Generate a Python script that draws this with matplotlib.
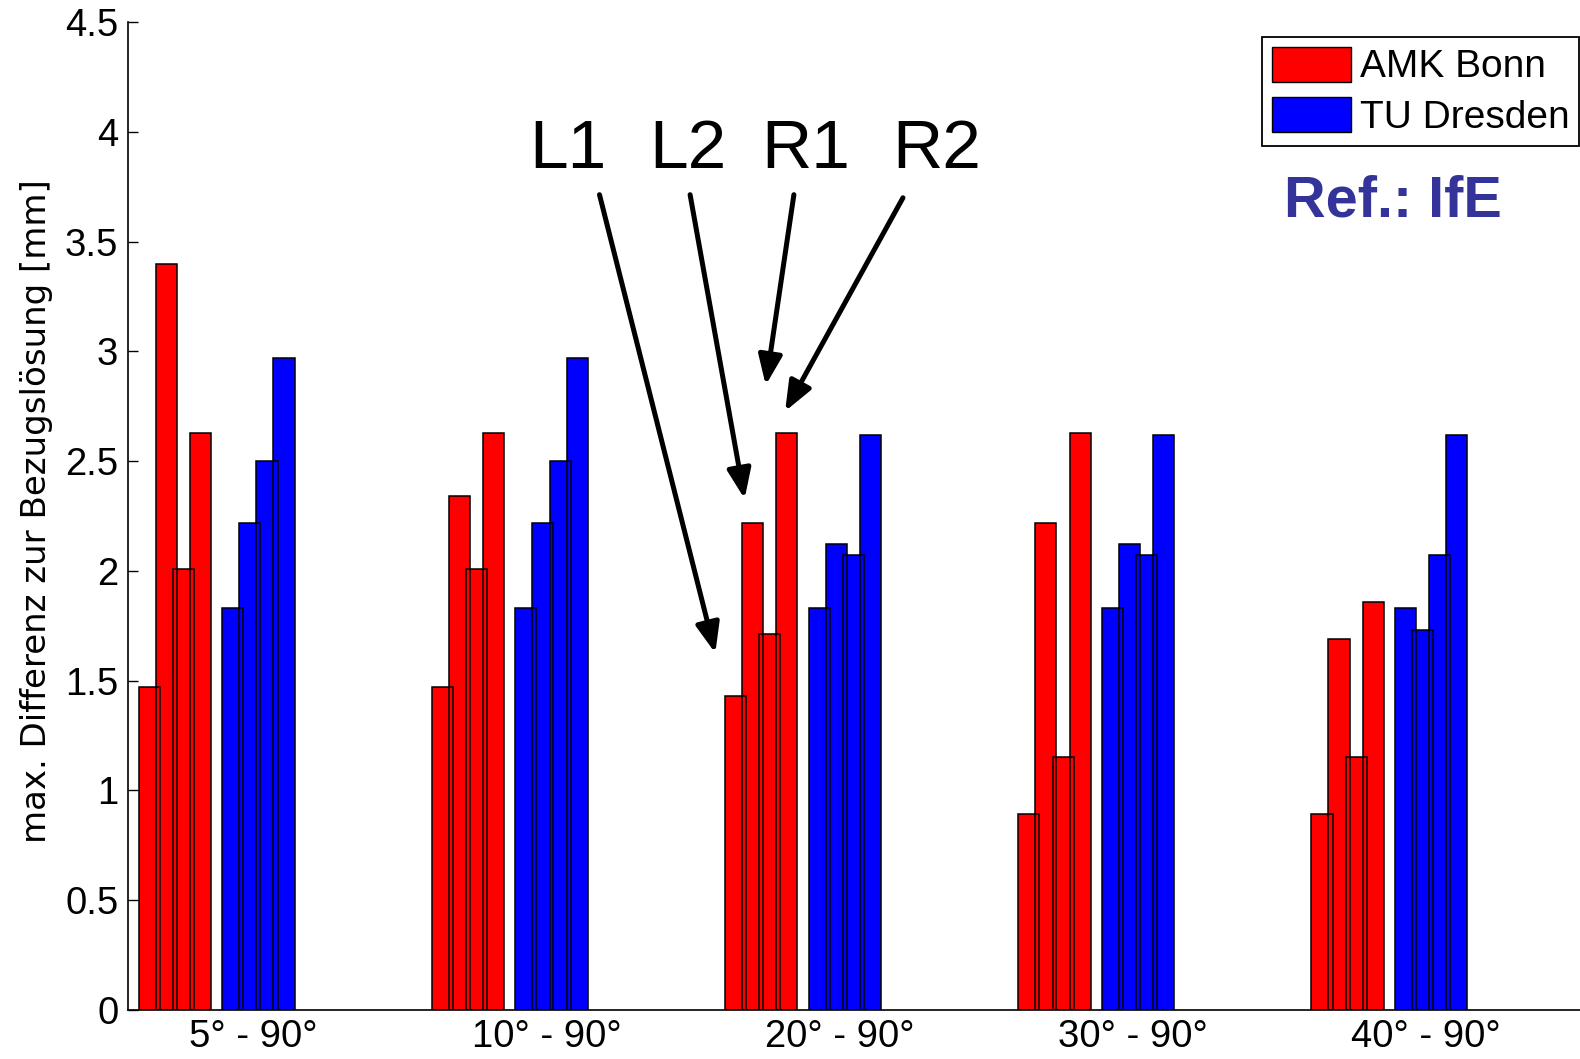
import matplotlib
matplotlib.use("Agg")
import matplotlib.pyplot as plt
from matplotlib.patches import Patch

plt.rcParams["font.family"] = ["Liberation Sans", "DejaVu Sans"]

# data
groups = ["5° - 90°", "10° - 90°", "20° - 90°", "30° - 90°", "40° - 90°"]
amk_bonn = [
    [1.47, 3.40, 2.01, 2.63],
    [1.47, 2.34, 2.01, 2.63],
    [1.43, 2.22, 1.71, 2.63],
    [0.89, 2.22, 1.15, 2.63],
    [0.89, 1.69, 1.15, 1.86],
]
tu_dresden = [
    [1.83, 2.22, 2.50, 2.97],
    [1.83, 2.22, 2.50, 2.97],
    [1.83, 2.12, 2.07, 2.62],
    [1.83, 2.12, 2.07, 2.62],
    [1.83, 1.73, 2.07, 2.62],
]
yticks = [0, 0.5, 1, 1.5, 2, 2.5, 3, 3.5, 4, 4.5]
ytick_labels = ["0", "0.5", "1", "1.5", "2", "2.5", "3", "3.5", "4", "4.5"]
markers = ["L1", "L2", "R1", "R2"]

# layout
W, H = 1580, 1059
red_off = [-0.230, -0.172, -0.113, -0.055]
blue_off = [0.055, 0.113, 0.172, 0.230]
bar_w = 0.072

fig = plt.figure(figsize=(W / 100, H / 100), dpi=100)
ax = fig.add_axes([128 / W, 1 - 1009.7 / H, 1 - 128 / W, (1009.7 - 22.2) / H])
ax.set_xlim(0.698, 5.65)
ax.set_ylim(0, 4.5)

xs = range(1, len(groups) + 1)
for series, offs, col in [(amk_bonn, red_off, "#ff0000"), (tu_dresden, blue_off, "#0000ff")]:
    for j, off in enumerate(offs):
        pos = [x + off for x in xs]
        vals = [row[j] for row in series]
        # fills first, outlines on top so every edge stays visible
        ax.bar(pos, vals, width=bar_w, color=col, linewidth=0, zorder=2)
        ax.bar(pos, vals, width=bar_w, facecolor="none", edgecolor="black",
               linewidth=1.1, zorder=3)

ax.spines["top"].set_visible(False)
ax.spines["right"].set_visible(False)
for s in ["left", "bottom"]:
    ax.spines[s].set_linewidth(1.2)

ax.set_yticks(yticks)
ax.set_yticklabels(ytick_labels)
ax.tick_params(axis="y", direction="in", length=7, width=1, labelsize=27.5, pad=7)
ax.set_xticks([x + 0.125 for x in xs])
ax.set_xticklabels(groups)
ax.tick_params(axis="x", length=0, labelsize=27.5, pad=7)

fig.text(37 / W, 1 - 511 / H, "max. Differenz zur Bezugslösung [mm]",
         rotation=90, ha="center", va="center", fontsize=24.5,
         family=["DejaVu Sans"])

# big annotation labels + arrows
label_x = [2.197, 2.608, 3.008, 3.457]
for lx, t in zip(label_x, markers):
    ax.text(lx, 3.835, t, ha="center", va="baseline", fontsize=50, zorder=5)

arrows = [
    ((2.306, 3.714), (2.701, 1.625)),
    ((2.615, 3.714), (2.801, 2.328)),
    ((2.969, 3.714), (2.873, 2.846)),
    ((3.341, 3.700), (2.939, 2.727)),
]
for (x0, y0), (x1, y1) in arrows:
    ax.annotate("", xy=(x1, y1), xytext=(x0, y0),
                arrowprops=dict(arrowstyle="-|>,head_length=0.6,head_width=0.24",
                                lw=3.6, color="black", mutation_scale=30,
                                shrinkA=0, shrinkB=0),
                zorder=5)

ax.text(4.640, 3.613, "Ref.: IfE", ha="left", va="baseline",
        fontsize=41.5, fontweight="bold", color="#333399")

handles = [Patch(facecolor="#ff0000", edgecolor="black", linewidth=1.0),
           Patch(facecolor="#0000ff", edgecolor="black", linewidth=1.0)]
leg = ax.legend(handles, ["AMK Bonn", "TU Dresden"], loc="upper left",
                bbox_to_anchor=(1262 / W, 1 - 37 / H), bbox_transform=fig.transFigure,
                borderaxespad=0, fontsize=28, frameon=True, fancybox=False,
                framealpha=1, edgecolor="black", borderpad=0.25, labelspacing=0.3,
                handlelength=2.05, handleheight=1.0, handletextpad=0.22)
leg.get_frame().set_linewidth(1.3)

fig.savefig("out.png", dpi=100, facecolor="white")
